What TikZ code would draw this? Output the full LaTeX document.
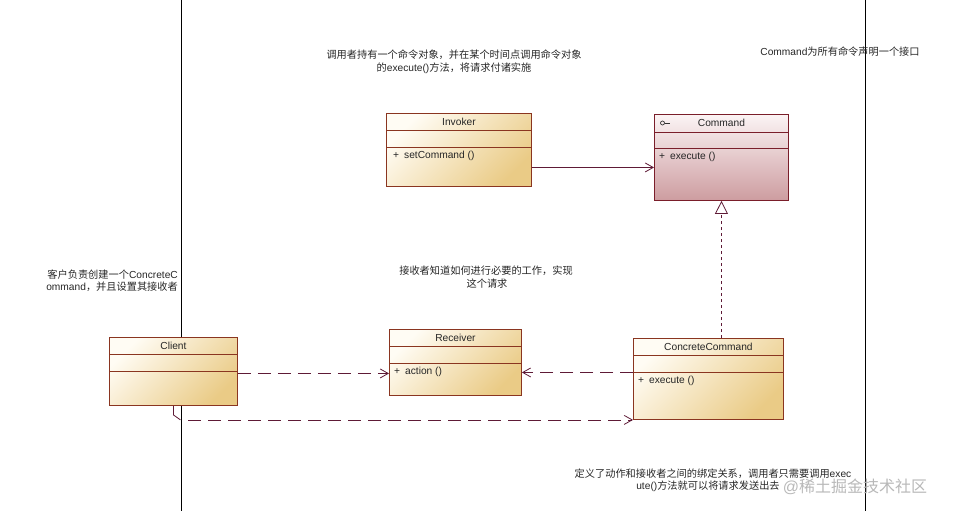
\documentclass[tikz,border=0pt]{standalone}
\usepackage{fontspec}
\setmainfont{Liberation Sans}
\newfontfamily\cjk{Noto Sans CJK SC}
\usetikzlibrary{arrows.meta,calc}
\definecolor{tanA}{HTML}{FFFCF4}
\definecolor{tanB}{HTML}{EACB86}
\definecolor{pinkA}{HTML}{FBF4F4}
\definecolor{pinkB}{HTML}{CD9CA0}
\definecolor{clsline}{HTML}{8A3520}
\definecolor{cmdline}{HTML}{7A1E2A}
\definecolor{conn}{HTML}{5E1A36}
\definecolor{wm}{HTML}{B8B8B8}
\begin{document}
\begin{tikzpicture}[x=1pt,y=-1pt,
  cls/.style={draw=clsline, line width=0.9pt, rectangle, inner sep=0pt, anchor=north west,
     top color=tanA, bottom color=tanB, shading angle=45},
  cmdcls/.style={cls, draw=cmdline, top color=pinkA, bottom color=pinkB},
  divider/.style={draw=clsline, line width=0.8pt},
  cmddivider/.style={draw=cmdline, line width=0.8pt},
  title/.style={font=\fontsize{10.2}{12}\selectfont, inner sep=0pt, text=black!85},
  member/.style={font=\fontsize{10.2}{12}\selectfont, inner sep=0pt, anchor=west, text=black!85},
  note/.style={font=\fontsize{10.2}{12}\selectfont, inner sep=0pt, text=black!85},
  lane/.style={draw=black, line width=0.9pt},
  barb/.style={-{Straight Barb[length=8pt,width=9pt,line width=0.8pt]}},
  assoc/.style={draw=conn, line width=0.8pt, barb},
  dep/.style={draw=conn, line width=0.8pt, dash pattern=on 13pt off 7pt, barb},
  real/.style={draw=conn, line width=0.8pt, dash pattern=on 3pt off 3pt,
     -{Triangle[open, length=13pt, width=13pt, line width=0.8pt, fill=white]}}
]
\useasboundingbox (0,0) rectangle (955,511);
% swim lanes
\coordinate (laneAtop) at (181,0);
\coordinate (laneAbot) at (181,511);
\coordinate (laneBtop) at (865,0);
\coordinate (laneBbot) at (865,511);
\draw[lane] (laneAtop) -- (laneAbot);
\draw[lane] (laneBtop) -- (laneBbot);

% Invoker
\node[cls, minimum width=145pt, minimum height=73pt] (invoker) at (386,113) {};
\draw[divider] ($(invoker.north west)+(0,17)$) -- ($(invoker.north east)+(0,17)$);
\draw[divider] ($(invoker.north west)+(0,34)$) -- ($(invoker.north east)+(0,34)$);
\node[title] (invokerT) at ($(invoker.north)+(0,9)$) {Invoker};
\node[member] (invokerM) at ($(invoker.north west)+(7,43)$) {+\hspace{5pt}setCommand ()};

% Command
\node[cmdcls, minimum width=134pt, minimum height=86pt] (command) at (654,114) {};
\draw[cmddivider] ($(command.north west)+(0,18)$) -- ($(command.north east)+(0,18)$);
\draw[cmddivider] ($(command.north west)+(0,34)$) -- ($(command.north east)+(0,34)$);
\node[title] (commandT) at ($(command.north)+(0,9)$) {Command};
\coordinate (icoC) at ($(command.north west)+(8.5,9)$);
\coordinate (icoE) at ($(command.north west)+(16,9)$);
\draw[draw=black!80, line width=0.7pt] (icoC) circle (2pt);
\draw[draw=black!80, line width=0.7pt] ($(icoC)+(2,0)$) -- (icoE);
\node[member] (commandM) at ($(command.north west)+(5,43)$) {+\hspace{5pt}execute ()};

% Receiver
\node[cls, minimum width=132pt, minimum height=66pt] (receiver) at (389,329) {};
\draw[divider] ($(receiver.north west)+(0,17)$) -- ($(receiver.north east)+(0,17)$);
\draw[divider] ($(receiver.north west)+(0,34)$) -- ($(receiver.north east)+(0,34)$);
\node[title] (receiverT) at ($(receiver.north)+(0,9)$) {Receiver};
\node[member] (receiverM) at ($(receiver.north west)+(5,43)$) {+\hspace{5pt}action ()};

% ConcreteCommand
\node[cls, minimum width=150pt, minimum height=81pt] (concrete) at (633,338) {};
\draw[divider] ($(concrete.north west)+(0,17)$) -- ($(concrete.north east)+(0,17)$);
\draw[divider] ($(concrete.north west)+(0,34)$) -- ($(concrete.north east)+(0,34)$);
\node[title] (concreteT) at ($(concrete.north)+(0,9)$) {ConcreteCommand};
\node[member] (concreteM) at ($(concrete.north west)+(5,43)$) {+\hspace{5pt}execute ()};

% Client
\node[cls, minimum width=128pt, minimum height=68pt] (client) at (109,337) {};
\draw[divider] ($(client.north west)+(0,17)$) -- ($(client.north east)+(0,17)$);
\draw[divider] ($(client.north west)+(0,34)$) -- ($(client.north east)+(0,34)$);
\node[title] (clientT) at ($(client.north)+(0,9)$) {Client};

% connectors
\draw[assoc] ([yshift=-17.5pt]invoker.east) -- ([yshift=-10pt]command.west);
\draw[real] (command.south |- concrete.north) -- (command.south);
\draw[dep] ([yshift=-2pt]client.east) -- ([yshift=-11pt]receiver.west);
\draw[dep] ([yshift=6.5pt]concrete.west) -- ([yshift=-10pt]receiver.east);
\draw[draw=conn, line width=0.8pt] (client.south) -- ++(0,9) -- ++(7,5) coordinate (bend);
\draw[dep] ($(bend)+(8,0)$) -- (concrete.south west);

% notes
\node[note] (n1) at (454,55) {\cjk 调用者持有一个命令对象，并在某个时间点调用命令对象};
\node[note] (n2) at (454,68) {{\cjk 的}execute(){\cjk 方法，将请求付诸实施}};
\node[note] (n3) at (840,52) {Command{\cjk 为所有命令声明一个接口}};
\node[note, anchor=east] (n4) at (178,275) {{\cjk 客户负责创建一个}ConcreteC};
\node[note, anchor=east] (n5) at (178,287) {ommand{\cjk ，并且设置其接收者}};
\node[note] (n6) at (486,271) {\cjk 接收者知道如何进行必要的工作，实现};
\node[note] (n7) at (487,284) {\cjk 这个请求};
\node[note] (n8) at (713,474) {{\cjk 定义了动作和接收者之间的绑定关系，调用者只需要调用}exec};
\node[note] (n9) at (708,486) {ute(){\cjk 方法就可以将请求发送出去}};
\node[inner sep=0pt, text=wm, font=\fontsize{16}{18}\selectfont] (wmark) at (855,487) {@{\cjk 稀土掘金技术社区}};
\end{tikzpicture}
\end{document}
